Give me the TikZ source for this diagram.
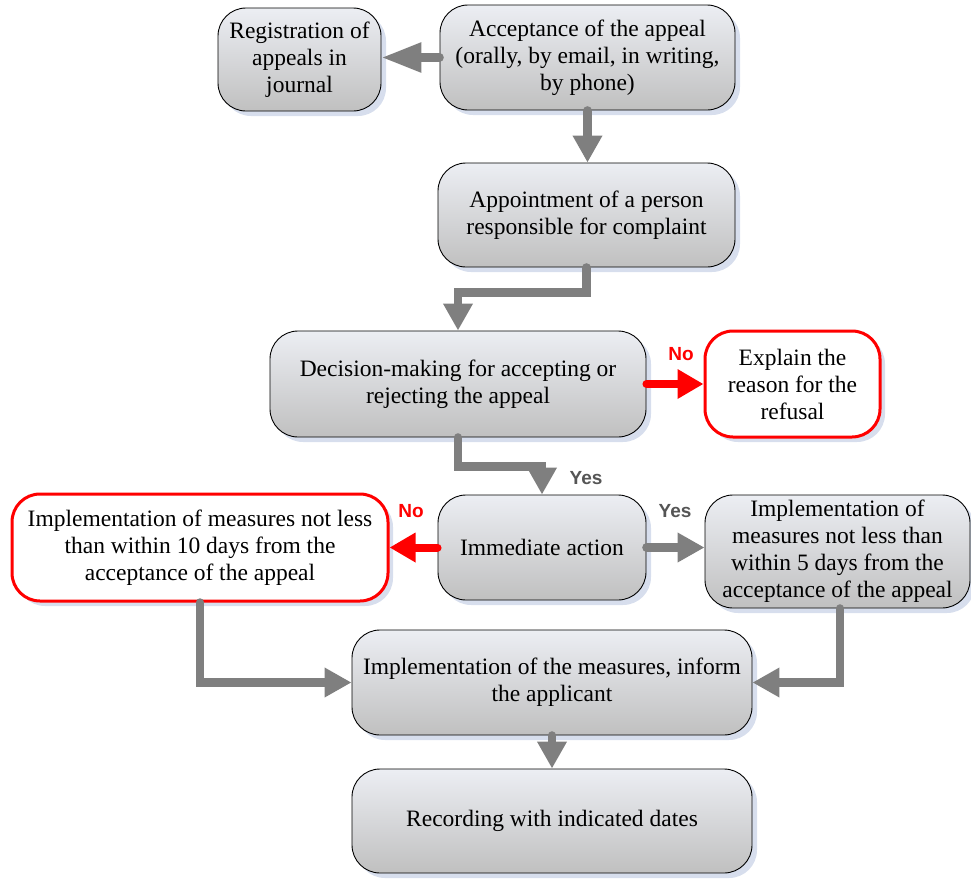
\documentclass[tikz,border=0pt]{standalone}
\usepackage{fontspec}
\setmainfont{Liberation Serif}
\newfontfamily\lblfont{Liberation Sans}
\usetikzlibrary{arrows.meta,shadows}
\definecolor{arrowgray}{HTML}{7F7F7F}
\definecolor{shadowblue}{HTML}{CDD6E8}
\definecolor{boxtop}{HTML}{ECEEF3}
\definecolor{boxbot}{HTML}{C0C0C0}
\definecolor{yesgray}{HTML}{555555}
\begin{document}
\begin{tikzpicture}[x=1pt,y=-1pt,
  base/.style={rectangle, rounded corners=28pt, align=center, inner sep=0pt,
    font=\fontsize{23.5}{27}\selectfont,
    drop shadow={shadow xshift=5pt, shadow yshift=-5pt, fill=shadowblue, opacity=0.8}},
  box/.style={base, draw=black, line width=0.9pt, top color=boxtop, bottom color=boxbot},
  redbox/.style={base, draw=red, line width=3pt, fill=white},
  garrow/.style={draw=arrowgray, line width=8.5pt, line cap=round, -{Triangle[width=28pt,length=27pt]}},
  rarrow/.style={draw=red, line width=8pt, line cap=round, -{Triangle[width=28pt,length=26pt]}},
  nolbl/.style={font=\lblfont\bfseries\fontsize{19}{19}\selectfont, text=red},
  yeslbl/.style={font=\lblfont\bfseries\fontsize{19}{19}\selectfont, text=yesgray}
]
\useasboundingbox (0,0) rectangle (971,878);

\node[box, minimum width=163pt, minimum height=103pt] (reg) at (299.5,59.5) {Registration of\\appeals in\\journal};
\node[box, minimum width=295pt, minimum height=105pt] (acc) at (587.5,57.5) {Acceptance of the appeal\\(orally, by email, in writing,\\by phone)};
\node[box, minimum width=297pt, minimum height=104pt] (app) at (586.5,215) {Appointment of a person\\responsible for complaint};
\node[box, minimum width=376pt, minimum height=106pt] (dec) at (458,384) {Decision-making for accepting or\\rejecting the appeal};
\node[redbox, minimum width=175pt, minimum height=106pt] (exp) at (792.5,384) {Explain the\\reason for the\\refusal};
\node[box, minimum width=208pt, minimum height=105pt] (imm) at (542,547.5) {Immediate action};
\node[redbox, minimum width=376pt, minimum height=107pt] (ten) at (200,547.5) {Implementation of measures not less\\than within 10 days from the\\acceptance of the appeal};
\node[box, minimum width=265pt, minimum height=113pt] (five) at (837.5,551.5) {Implementation of\\measures not less than\\within 5 days from the\\acceptance of the appeal};
\node[box, minimum width=400pt, minimum height=105pt] (inf) at (552,682.5) {Implementation of the measures, inform\\the applicant};
\node[box, minimum width=400pt, minimum height=104pt] (rec) at (552,821) {Recording with indicated dates};

\draw[garrow, -{Triangle[width=28pt,length=40pt]}] (acc.west) -- (acc.west -| reg.east);
\draw[garrow] (acc.south) -- (acc.south |- app.north);
\draw[garrow] (app.south) -- ++(0,25) -| (dec.north);
\draw[rarrow] (dec.east) -- (exp.west);
\draw[garrow] (dec.south) -- ++(0,29) -| (imm.north);
\draw[rarrow] (imm.west) -- (ten.east);
\draw[garrow] (imm.east) -- (imm.east -| five.west);
\draw[garrow] (ten.south) |- (inf.west);
\draw[garrow] ([xshift=2.5pt]five.south) |- (inf.east);
\draw[garrow] (inf.south) -- (rec.north);

\node[nolbl] (no1) at (681,354) {No};
\node[yeslbl] (yes1) at (586,478) {Yes};
\node[nolbl] (no2) at (411,511) {No};
\node[yeslbl] (yes2) at (675,511) {Yes};
\end{tikzpicture}
\end{document}
